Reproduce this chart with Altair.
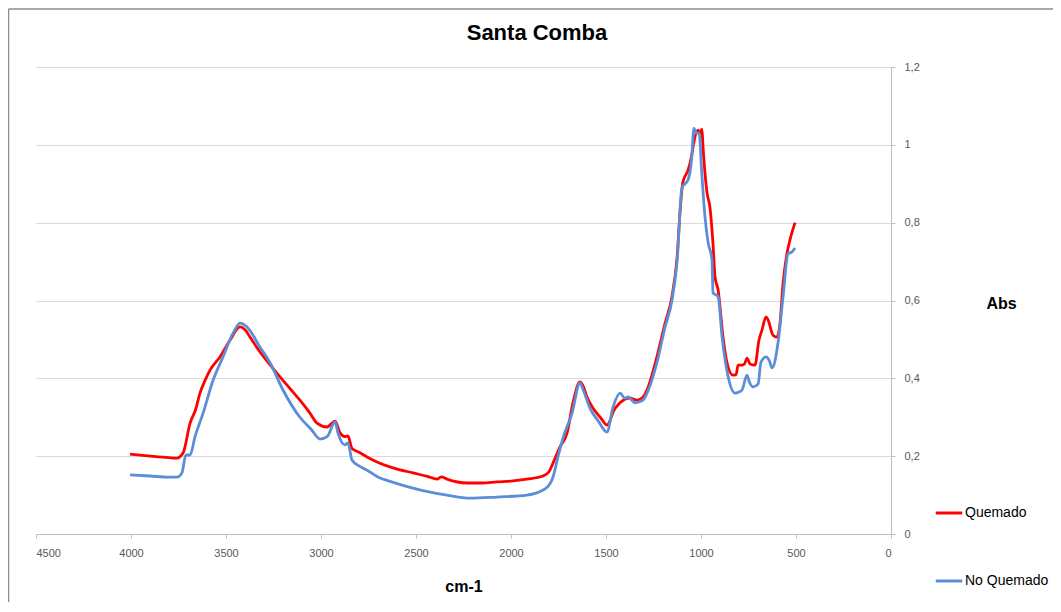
import altair as alt
import pandas as pd

# Quemado (red)
wn_q = [4005, 3900, 3800, 3758, 3726, 3689, 3660, 3637, 3610, 3584, 3532, 3479, 3426, 3400, 3374,
        3321, 3270, 3216, 3160, 3111, 3060, 3021, 2968, 2926, 2900, 2874, 2858, 2837, 2800, 2758,
        2690, 2621, 2516, 2440, 2389, 2368, 2337, 2232, 2150, 2074, 2000, 1916, 1832, 1800, 1779,
        1742, 1705, 1674, 1637, 1620, 1600, 1568, 1530, 1495, 1480, 1463, 1426, 1374, 1337, 1300,
        1284, 1232, 1190, 1153, 1126, 1110, 1095, 1068, 1050, 1040, 1016, 1005, 995, 990, 968,
        953, 937, 926, 910, 884, 863, 832, 815, 805, 784, 770, 758, 742, 716, 695, 679, 658, 647,
        621, 600, 584, 568, 547, 532, 505]
abs_q = [0.205, 0.200, 0.196, 0.195, 0.208, 0.285, 0.320, 0.362, 0.395, 0.421, 0.455, 0.498, 0.532, 0.525, 0.506,
         0.468, 0.436, 0.404, 0.372, 0.344, 0.312, 0.285, 0.275, 0.290, 0.260, 0.250, 0.252, 0.220, 0.210, 0.198,
         0.182, 0.170, 0.157, 0.148, 0.141, 0.147, 0.141, 0.131, 0.131, 0.134, 0.136, 0.141, 0.149, 0.160, 0.182,
         0.224, 0.259, 0.337, 0.391, 0.380, 0.352, 0.323, 0.300, 0.280, 0.290, 0.313, 0.337, 0.349, 0.344, 0.355,
         0.370, 0.455, 0.540, 0.610, 0.710, 0.830, 0.905, 0.935, 0.970, 1.000, 1.038, 1.030, 1.040, 1.000, 0.876,
         0.840, 0.747, 0.660, 0.627, 0.506, 0.440, 0.408, 0.410, 0.434, 0.434, 0.438, 0.452, 0.437, 0.434, 0.498,
         0.524, 0.558, 0.550, 0.511, 0.506, 0.542, 0.645, 0.722, 0.755, 0.800]

# No Quemado (blue)
wn_nq = [4005, 3900, 3800, 3758, 3732, 3711, 3689, 3663, 3621, 3568, 3516, 3463, 3426, 3389, 3321,
         3268, 3200, 3111, 3050, 3005, 2968, 2926, 2911, 2874, 2858, 2837, 2800, 2758, 2690, 2653,
         2516, 2337, 2216, 2074, 1916, 1832, 1800, 1779, 1753, 1726, 1679, 1637, 1620, 1584, 1540,
         1495, 1463, 1426, 1400, 1384, 1347, 1305, 1284, 1232, 1190, 1153, 1126, 1100, 1068, 1050,
         1037, 1025, 1010, 995, 979, 963, 942, 937, 910, 889, 857, 821, 800, 784, 758, 745, 726, 700,
         684, 658, 640, 626, 595, 568, 542, 521, 505]
abs_nq = [0.152, 0.149, 0.146, 0.146, 0.157, 0.203, 0.203, 0.250, 0.310, 0.395, 0.455, 0.516, 0.542, 0.532, 0.480,
          0.440, 0.370, 0.300, 0.268, 0.244, 0.250, 0.288, 0.260, 0.229, 0.234, 0.190, 0.175, 0.164, 0.144, 0.138,
          0.118, 0.100, 0.092, 0.095, 0.100, 0.113, 0.125, 0.146, 0.198, 0.247, 0.310, 0.388, 0.370, 0.323, 0.290,
          0.262, 0.326, 0.362, 0.349, 0.352, 0.337, 0.344, 0.362, 0.440, 0.530, 0.600, 0.700, 0.890, 0.910, 0.960,
          1.043, 1.030, 1.030, 0.920, 0.815, 0.750, 0.704, 0.620, 0.610, 0.506, 0.404, 0.362, 0.365, 0.370, 0.408,
          0.390, 0.378, 0.385, 0.442, 0.455, 0.445, 0.427, 0.490, 0.610, 0.720, 0.725, 0.735]

series = ["Quemado", "No Quemado"]
colors = ["#FF0000", "#5B8ED6"]
x_ticks = [4500, 4000, 3500, 3000, 2500, 2000, 1500, 1000, 500, 0]
y_ticks = [0, 0.2, 0.4, 0.6, 0.8, 1.0, 1.2]
chart_title = "Santa Comba"

df_q = pd.DataFrame({"wn": wn_q, "abs": abs_q, "serie": series[0], "o": range(len(wn_q))})
df_nq = pd.DataFrame({"wn": wn_nq, "abs": abs_nq, "serie": series[1], "o": range(len(wn_nq))})

FONT = "Liberation Sans"

x_enc = alt.X("wn:Q",
              scale=alt.Scale(domain=[4500, 0], nice=False),
              axis=alt.Axis(values=x_ticks, format="d", title="cm-1", grid=False,
                            labelFont=FONT, labelFontSize=11, labelColor="#595959",
                            labelPadding=9, tickSize=4, tickColor="#bfbfbf",
                            domainColor="#bfbfbf", titleFont=FONT, titleFontSize=16,
                            titleFontWeight="bold", titleColor="#000000", titlePadding=20))
y_enc = alt.Y("abs:Q",
              scale=alt.Scale(domain=[0, 1.2], nice=False),
              axis=alt.Axis(orient="right", values=y_ticks,
                            labelExpr="replace(format(datum.value, '.2~f'), '.', ',')",
                            title="Abs", titleAngle=0, titleX=110, titleY=236,
                            titleAlign="center", titleBaseline="middle",
                            titleFont=FONT, titleFontSize=16, titleFontWeight="bold",
                            titleColor="#000000",
                            labelFont=FONT, labelFontSize=11, labelColor="#595959",
                            labelPadding=9, tickSize=4, tickColor="#bfbfbf",
                            domainColor="#bfbfbf", gridColor="#d9d9d9", gridWidth=1.2))
color_enc = alt.Color("serie:N",
                      scale=alt.Scale(domain=series, range=colors),
                      legend=alt.Legend(title=None, orient="none", legendX=898, legendY=431,
                                        direction="vertical", symbolType="stroke",
                                        symbolSize=700, symbolStrokeWidth=3,
                                        labelFont=FONT, labelFontSize=14, labelColor="#000000",
                                        rowPadding=46, labelOffset=1))

red = alt.Chart(df_q).mark_line(strokeWidth=2.8, interpolate="monotone").encode(
    x=x_enc, y=y_enc, color=color_enc, order="o:Q")
blue = alt.Chart(df_nq).mark_line(strokeWidth=2.8, interpolate="monotone").encode(
    x=x_enc, y=y_enc, color=color_enc, order="o:Q")

# chart-area frame (top and left edges, as in the reference) and the title text
one = pd.DataFrame({"k": [0]})
frame_top = alt.Chart(one).mark_rule(color="#8c8c8c", strokeWidth=1.5).encode(
    x=alt.value(-27.5), x2=alt.value(1030), y=alt.value(-58))
frame_left = alt.Chart(one).mark_rule(color="#8c8c8c", strokeWidth=1.5).encode(
    x=alt.value(-27.5), y=alt.value(-58), y2=alt.value(550))
title_txt = alt.Chart(one).mark_text(font=FONT, fontSize=22, fontWeight="bold",
                                     color="#000000", align="center", baseline="middle").encode(
    x=alt.value(501), y=alt.value(-34), text=alt.value(chart_title))

chart = alt.layer(frame_top, frame_left, title_txt, red, blue).properties(
    width=855, height=467,
    background="white",
    autosize=alt.AutoSizeParams(type="none"),
    padding={"left": 28, "top": 59, "right": 162, "bottom": 68},
).configure_view(stroke=None)

chart.save("out.html", embed_options={"renderer": "svg", "actions": False})
